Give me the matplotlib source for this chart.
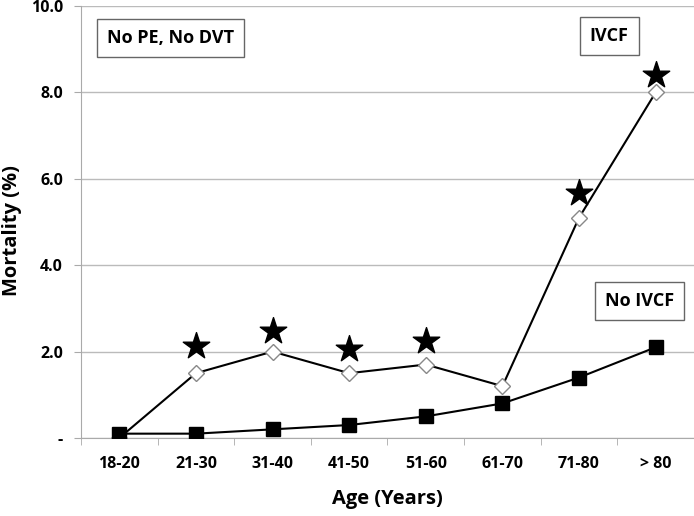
import numpy as np
import matplotlib.pyplot as plt

# dati
eta = ['18-20', '21-30', '31-40', '41-50', '51-60', '61-70', '71-80', '> 80']
ivcf = [0.0, 1.5, 2.0, 1.5, 1.7, 1.2, 5.1, 8.0]
no_ivcf = [0.1, 0.1, 0.2, 0.3, 0.5, 0.8, 1.4, 2.1]
# stelle (significativita') sopra la serie IVCF
stelle_idx = [1, 2, 3, 4, 6, 7]
stelle_y = [2.13, 2.48, 2.06, 2.25, 5.67, 8.4]
yticks = [0, 2, 4, 6, 8, 10]
ytick_labels = ['-', '2.0', '4.0', '6.0', '8.0', '10.0']

plt.rcParams['font.family'] = ['Open Sans', 'DejaVu Sans']

fig = plt.figure(figsize=(6.94, 5.16), dpi=100)
ax = fig.add_axes([0.1167, 0.1512, 0.8833, 0.8372])

x = np.arange(len(eta))
ax.plot(x, ivcf, color='black', lw=1.5, marker='D', ms=8.5,
        mfc='white', mec='#888888', mew=1.0, zorder=3)
ax.plot(x, no_ivcf, color='black', lw=1.5, marker='s', ms=9.5,
        mfc='black', mec='black', zorder=4)
ax.scatter(stelle_idx, stelle_y, marker='*', s=400, color='black', zorder=5)

ax.set_xlim(-0.5, len(eta) - 0.5)
ax.set_ylim(0, 10)
ax.set_yticks(yticks)
ax.set_yticklabels(ytick_labels, fontsize=11.5, fontweight='bold')
ax.set_xticks(x)
ax.set_xticklabels(eta, fontsize=11.5, fontweight='bold')
ax.set_xticks(np.arange(-0.5, len(eta)), minor=True)
ax.tick_params(axis='x', which='major', length=0, pad=13)
ax.tick_params(axis='x', which='minor', length=5, color='#aaaaaa', direction='out')
ax.tick_params(axis='y', length=5, color='#aaaaaa', pad=8)

ax.grid(axis='y', color='#bbbbbb', lw=1.0)
ax.set_axisbelow(True)
for s in ['top', 'right']:
    ax.spines[s].set_visible(False)
for s in ['left', 'bottom']:
    ax.spines[s].set_color('#aaaaaa')

ax.set_ylabel('Mortality (%)', fontsize=14.5, fontweight='bold')
ax.yaxis.set_label_coords(-0.096, 0.48)
ax.set_xlabel('Age (Years)', fontsize=14.5, fontweight='bold', labelpad=12)

box = dict(boxstyle='square,pad=0.55', fc='white', ec='#666666', lw=1)
ax.text(0.043, 0.925, 'No PE, No DVT', transform=ax.transAxes, fontsize=13,
        fontweight='bold', va='center', ha='left', bbox=box)
ax.text(0.83, 0.93, 'IVCF', transform=ax.transAxes, fontsize=13,
        fontweight='bold', va='center', ha='left', bbox=box)
ax.text(0.855, 0.318, 'No IVCF', transform=ax.transAxes, fontsize=13,
        fontweight='bold', va='center', ha='left', bbox=box)

fig.savefig('out.png', dpi=100)
